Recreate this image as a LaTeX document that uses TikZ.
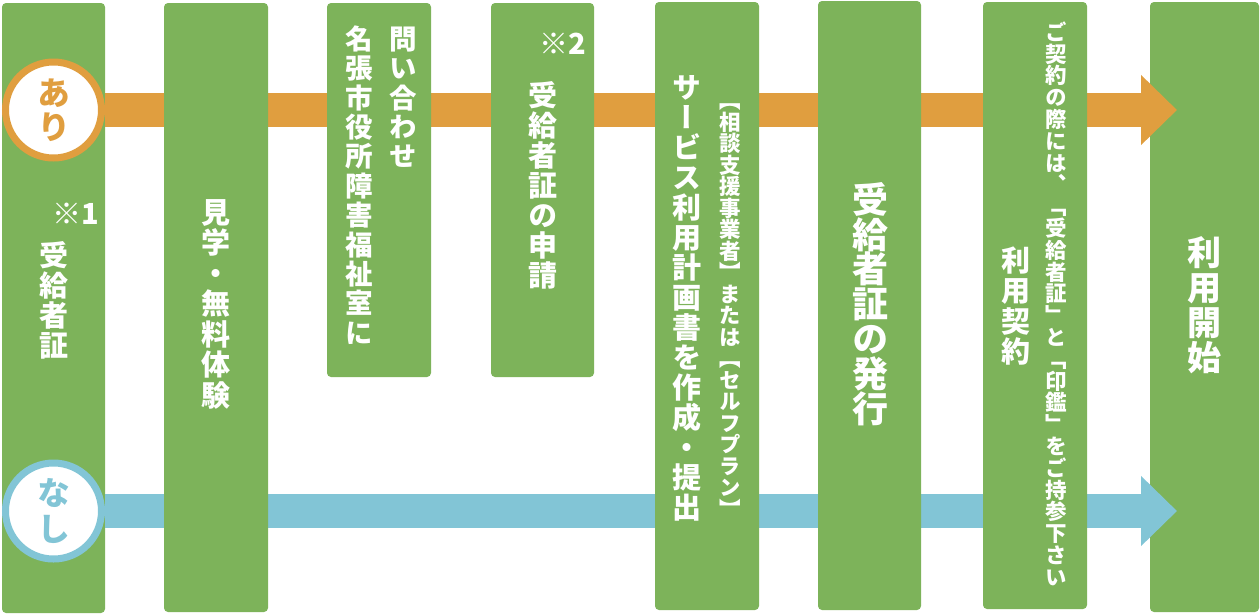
\documentclass[tikz,border=0pt]{standalone}
\usepackage{fontspec}
\usetikzlibrary{arrows.meta}
\newfontfamily\jp{Noto Sans CJK JP}
\newfontfamily\jpv{Noto Sans CJK JP}[RawFeature=+vert]
\definecolor{cgreen}{HTML}{7DB35A}
\definecolor{corange}{HTML}{E09E3F}
\definecolor{cblue}{HTML}{82C5D6}
\newdimen\vsf \newdimen\vsp \newdimen\vsht \newdimen\vsdp
\newcommand\vcell[1]{\hbox to \vsf{\hss\vrule width0pt height\vsht depth\vsdp\smash{#1}\hss}}
\def\vsloop#1{\ifx\relax#1\else\vcell{#1}\expandafter\vsloop\fi}
\newcommand\vstack[3]{\vbox{\offinterlineskip\vsf=#1pt\relax\vsp=#2pt\relax
  \fontsize{\vsf}{\vsp}\selectfont
  \vsht=0.38\vsf \advance\vsht by 0.5\vsp
  \vsdp=0.5\vsp \advance\vsdp by -0.38\vsf
  \vsloop#3\relax}}
\begin{document}
\begin{tikzpicture}[x=1pt,y=-1pt,
  col/.style={fill=cgreen, rounded corners=4pt, inner sep=0pt, draw=none},
  txt/.style={inner sep=0pt, text=white, font=\jpv\bfseries},
  notemark/.style={inner sep=0pt, text=white, font=\jp\bfseries\fontsize{29}{29}\selectfont},
  ring/.style={circle, fill=white, line width=7pt, minimum size=96pt, inner sep=0pt, font=\jpv\bfseries},
  bar/.style={line width=34pt, -{Triangle[length=36pt,width=68pt]}}]
\useasboundingbox (0,0) rectangle (1260,614);
% last column (under the arrow heads)
\node[col, minimum width=109pt, minimum height=610pt] (c8) at (1204.5,307) {};
\node[col, minimum width=103pt, minimum height=610pt] (c1) at (53.5,308) {};
% circles
\node[ring, draw=corange, text=corange] (ari) at (53.5,110) {\vstack{33}{34}{あり}};
\node[ring, draw=cblue, text=cblue] (nashi) at (53.5,511) {\vstack{33}{36}{なし}};
% arrows
\coordinate (ariend) at (1177,110);
\coordinate (nashiend) at (1177,511);
\draw[bar, draw=corange, fill=corange] (ari) -- (ariend);
\draw[bar, draw=cblue, fill=cblue] (nashi) -- (nashiend);
% columns
\node[col, minimum width=104pt, minimum height=609pt] (c2) at (216,307.5) {};
\node[col, minimum width=104pt, minimum height=374pt] (c3) at (379,190) {};
\node[col, minimum width=103pt, minimum height=374pt] (c4) at (542.5,190) {};
\node[col, minimum width=104pt, minimum height=608pt] (c5) at (707,306) {};
\node[col, minimum width=103pt, minimum height=609pt] (c6) at (869.5,305.5) {};
\node[col, minimum width=104pt, minimum height=607pt] (c7) at (1035,305.5) {};
% texts
\node[notemark] (m1) at (76,214) {※1};
\node[txt, anchor=north] (t1) at (53.5,240) {\vstack{29}{30}{受給者証}};
\node[txt, anchor=north] (t2) at (216,197) {\vstack{29}{30.5}{見学・無料体験}};
\node[txt, anchor=north] (t3a) at (403,24) {\vstack{27.5}{29.4}{問い合わせ}};
\node[txt, anchor=north] (t3b) at (359,24) {\vstack{27.5}{29.4}{名張市役所障害福祉室に}};
\node[notemark] (m2) at (563,44) {※2};
\node[txt, anchor=north] (t4) at (543,80.5) {\vstack{29}{30}{受給者証の申請}};
\node[txt, anchor=north] (t5a) at (730,89.5) {\vstack{21.5}{21.5}{【相談支援事業者】または【セルフプラン】}};
\node[txt, anchor=north] (t5b) at (687,72.5) {\vstack{29}{30}{サービス利用計画書を作成・提出}};
\node[txt, anchor=north] (t6) at (870,182) {\vstack{36}{34.8}{受給者証の発行}};
\node[txt, anchor=north] (t7a) at (1056,21) {\vstack{21.5}{21.8}{ご契約の際には、「受給者証」と「印鑑」をご持参下さい}};
\node[txt, anchor=north] (t7b) at (1016,245) {\vstack{29}{30.5}{利用契約}};
\node[txt, anchor=north] (t8) at (1204,235) {\vstack{34}{35}{利用開始}};
\end{tikzpicture}
\end{document}
